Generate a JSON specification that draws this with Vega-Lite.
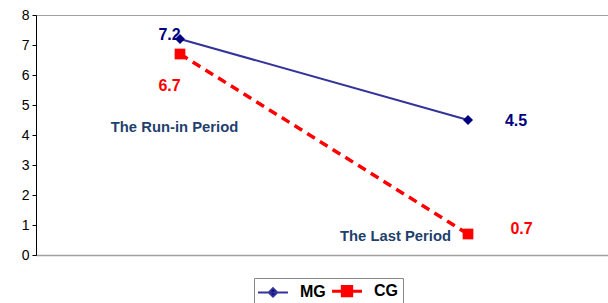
{
  "$schema": "https://vega.github.io/schema/vega-lite/v6.json",
  "width": 576,
  "height": 240,
  "autosize": {"type": "none"},
  "padding": {"left": 36, "top": 15, "right": 0, "bottom": 48},
  "background": "white",
  "config": {
    "font": "Liberation Sans",
    "view": {"stroke": "#a0a0a0", "strokeWidth": 1}
  },
  "data": {
    "values": [
      {"period": "The Run-in Period", "group": "MG", "value": 7.2},
      {"period": "The Last Period", "group": "MG", "value": 4.5},
      {"period": "The Run-in Period", "group": "CG", "value": 6.7},
      {"period": "The Last Period", "group": "CG", "value": 0.7}
    ]
  },
  "encoding": {
    "x": {
      "field": "period", "type": "nominal", "sort": null,
      "scale": {"domain": ["The Run-in Period", "The Last Period"]},
      "axis": {"title": null, "labels": false, "ticks": false, "domainColor": "#a0a0a0", "domainWidth": 1.5}
    },
    "y": {
      "field": "value", "type": "quantitative",
      "scale": {"domain": [0, 8], "nice": false},
      "axis": {"title": null, "values": [0,1,2,3,4,5,6,7,8], "grid": false, "domainColor": "black", "tickColor": "black", "tickSize": 4, "labelFontSize": 14, "labelColor": "black", "labelPadding": 3, "domainWidth": 1}
    }
  },
  "layer": [
    {
      "mark": {"type": "line", "strokeWidth": 2, "color": "#33339a"},
      "transform": [{"filter": "datum.group === 'MG'"}],
      "encoding": {}
    },
    {
      "mark": {"type": "line", "strokeWidth": 3.5, "color": "#ff0000", "strokeDash": [9, 6]},
      "transform": [{"filter": "datum.group === 'CG'"}],
      "encoding": {}
    },
    {
      "mark": {"type": "point", "filled": true, "opacity": 1, "size": 100, "shape": "diamond"},
      "transform": [{"filter": "datum.group === 'MG'"}],
      "encoding": {
        "color": {
          "field": "group", "type": "nominal",
          "scale": {"domain": ["MG", "CG"], "range": ["#000080", "#ff0000"]},
          "legend": {
            "title": null, "orient": "none", "direction": "horizontal",
            "legendX": 218, "legendY": 263,
            "strokeColor": "#888888", "fillColor": "white", "padding": 5,
            "symbolSize": 289, "symbolOffset": 6,
            "symbolType": {"expr": "datum.value === 'MG' ? 'M-1.76,0H1.76M0,-0.5L0.5,0L0,0.5L-0.5,0Z' : 'M-1.76,0H1.76M-0.55,-0.55H0.55V0.55H-0.55Z'"},
            "symbolStrokeWidth": {"expr": "datum.value === 'MG' ? 2 : 3"},
            "symbolStrokeColor": {"expr": "datum.value === 'MG' ? '#33339a' : '#ff0000'"},
            "labelFontSize": 16, "labelFontWeight": "bold", "labelColor": "black",
            "labelOffset": 19, "columnPadding": 0
          }
        }
      }
    },
    {
      "mark": {"type": "point", "filled": true, "opacity": 1, "size": 115, "shape": "square", "color": "#ff0000"},
      "transform": [{"filter": "datum.group === 'CG'"}],
      "encoding": {}
    },
    {
      "transform": [{"filter": "datum.group === 'MG' && datum.period === 'The Run-in Period'"}],
      "mark": {"type": "text", "fontSize": 16, "fontWeight": "bold", "color": "#000080", "dx": -10.5, "dy": -4},
      "encoding": {"text": {"field": "value", "format": ".1f"}}
    },
    {
      "transform": [{"filter": "datum.group === 'MG' && datum.period === 'The Last Period'"}],
      "mark": {"type": "text", "fontSize": 16, "fontWeight": "bold", "color": "#000080", "dx": 48, "dy": 1},
      "encoding": {"text": {"field": "value", "format": ".1f"}}
    },
    {
      "transform": [{"filter": "datum.group === 'CG' && datum.period === 'The Run-in Period'"}],
      "mark": {"type": "text", "fontSize": 16, "fontWeight": "bold", "color": "#ff0000", "dx": -10.5, "dy": 32},
      "encoding": {"text": {"field": "value", "format": ".1f"}}
    },
    {
      "transform": [{"filter": "datum.group === 'CG' && datum.period === 'The Last Period'"}],
      "mark": {"type": "text", "fontSize": 16, "fontWeight": "bold", "color": "#ff0000", "dx": 53.5, "dy": -5.5},
      "encoding": {"text": {"field": "value", "format": ".1f"}}
    },
    {
      "transform": [{"filter": "datum.group === 'MG' && datum.period === 'The Run-in Period'"}],
      "mark": {"type": "text", "fontSize": 14.8, "fontWeight": "bold", "color": "#1f3f6e", "dx": -5.5},
      "encoding": {"y": {"datum": 4.23}, "text": {"field": "period"}}
    },
    {
      "transform": [{"filter": "datum.group === 'MG' && datum.period === 'The Last Period'"}],
      "mark": {"type": "text", "fontSize": 14.8, "fontWeight": "bold", "color": "#1f3f6e", "dx": -72.5},
      "encoding": {"y": {"datum": 0.6}, "text": {"field": "period"}}
    }
  ]
}
